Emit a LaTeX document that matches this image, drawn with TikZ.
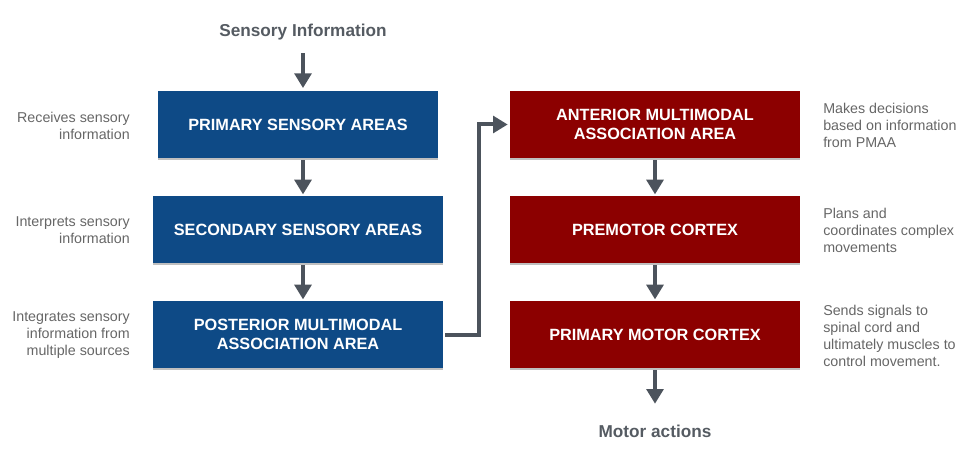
\documentclass[tikz,border=0pt]{standalone}
\usepackage{fontspec}
\setmainfont{Liberation Sans}
\usetikzlibrary{arrows.meta, shadows}
\definecolor{sensblue}{HTML}{0E4A86}
\definecolor{motorred}{HTML}{8C0000}
\definecolor{arrowgray}{HTML}{4C535C}
\definecolor{headgray}{HTML}{555B62}
\definecolor{notegray}{HTML}{666666}
\tikzset{
  % Area boxes
  areabox/.style  = { minimum height=50.25pt, align=center, text=white, inner sep=0pt,
                       font=\fontsize{12.2}{14.25}\selectfont\bfseries,
                       drop shadow={shadow xshift=0pt, shadow yshift=-1.2pt, opacity=0.25, fill=black} },
  sensbox/.style  = { areabox, fill=sensblue, minimum width=217.5pt },
  motorbox/.style = { areabox, fill=motorred, minimum width=217.5pt },
  % Connectors and texts
  flow/.style     = { arrowgray, line width=3pt, -{Triangle[width=12.5pt, length=11pt]} },
  note/.style     = { text=notegray, font=\fontsize{10.7}{12.75}\selectfont, inner sep=0pt },
  endlabel/.style = { text=headgray, font=\fontsize{12.9}{15}\selectfont\bfseries, inner sep=2pt }
}

\begin{document}
\begin{tikzpicture}[x=0.75pt, y=-0.75pt]

  \useasboundingbox (0,0) rectangle (978,474);

  \node[endlabel] (sensin) at (303,32.5) {Sensory Information};

  \node[sensbox, minimum width=210pt] (psa) at (298,124.5) {PRIMARY SENSORY AREAS};
  \node[sensbox] (ssa)  at (298,229.5) {SECONDARY SENSORY AREAS};
  \node[sensbox] (pmaa) at (298,334.5) {POSTERIOR MULTIMODAL\\ASSOCIATION AREA};

  \node[motorbox] (amaa) at (655,124.5) {ANTERIOR MULTIMODAL\\ASSOCIATION AREA};
  \node[motorbox] (pmc)  at (655,229.5) {PREMOTOR CORTEX};
  \node[motorbox] (m1)   at (655,334.5) {PRIMARY MOTOR CORTEX};

  \node[endlabel] (motor) at (655,431) {Motor actions};

  % --- side notes -----------------------------------------------------
  \node[note, anchor=east, align=right] (psanote)  at (130,125.5) {Receives sensory\\information};
  \node[note, anchor=east, align=right] (ssanote)  at (130,230.5) {Interprets sensory\\information};
  \node[note, anchor=east, align=right] (pmaanote) at (130,335)   {Integrates sensory\\information from\\multiple sources};

  \node[note, anchor=west, align=left] (amaanote) at (823,125)   {Makes decisions\\based on information\\from PMAA};
  \node[note, anchor=west, align=left] (pmcnote)  at (823,230)   {Plans and\\coordinates complex\\movements};
  \node[note, anchor=west, align=left] (m1note)   at (823,335.5) {Sends signals to\\spinal cord and\\ultimately muscles to\\control movement.};

  % --- sensory column -------------------------------------------------
  \draw[flow, shorten <=7.5pt, shorten >=2pt] (sensin.south) -- (sensin.south |- psa.north);
  \draw[flow, shorten <=1.5pt, shorten >=1pt] (sensin.south |- psa.south) -- (sensin.south |- ssa.north);
  \draw[flow, shorten <=1.5pt, shorten >=1pt] (sensin.south |- ssa.south) -- (sensin.south |- pmaa.north);

  % posterior to anterior association area
  \draw[flow, shorten <=1.5pt, shorten >=1.5pt] (pmaa.east) -- ++(27pt,0) |- (amaa.west);

  % --- motor column ---------------------------------------------------
  \draw[flow, shorten <=1.5pt, shorten >=1pt] (amaa.south) -- (pmc.north);
  \draw[flow, shorten <=1.5pt, shorten >=1pt] (pmc.south) -- (m1.north);
  \draw[flow, shorten <=1.5pt, shorten >=13.5pt] (m1.south) -- (motor.north);

\end{tikzpicture}
\end{document}
